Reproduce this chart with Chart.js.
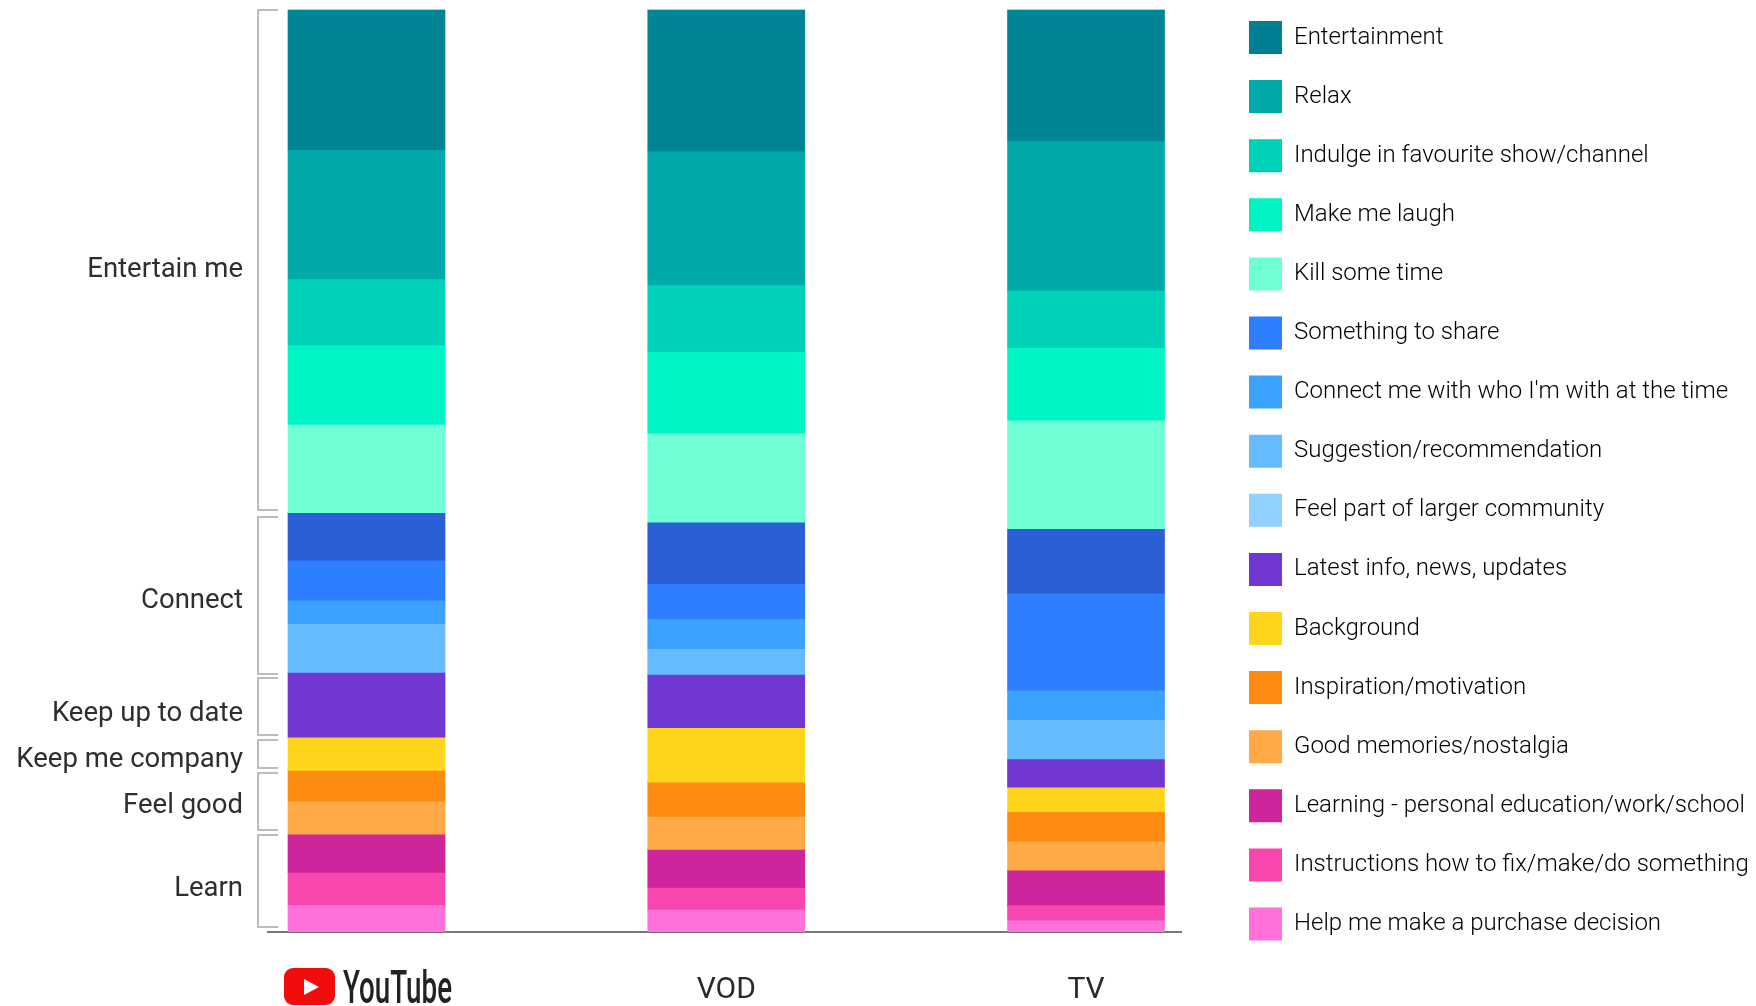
<!DOCTYPE html>
<html>
<head>
<meta charset="utf-8">
<title>Viewing motivations by platform</title>
<script src="https://cdn.jsdelivr.net/npm/chart.js@4/dist/chart.umd.min.js"></script>
<style>
  html, body { margin: 0; padding: 0; background: #fff; }
  #wrap { width: 1756px; height: 1006px; }
</style>
</head>
<body>
<div id="wrap"><canvas id="chart" width="1756" height="1006"></canvas></div>
<script>
const platforms = ['YouTube', 'VOD', 'TV'];

const motivations = [
  'Entertainment', 'Relax', 'Indulge in favourite show/channel', 'Make me laugh',
  'Kill some time', 'Something to share', "Connect me with who I'm with at the time",
  'Suggestion/recommendation', 'Feel part of larger community', 'Latest info, news, updates',
  'Background', 'Inspiration/motivation', 'Good memories/nostalgia',
  'Learning - personal education/work/school', 'Instructions how to fix/make/do something',
  'Help me make a purchase decision'
];

// Share of each motivation per platform, in percent, in stacking order from the top.
const youtubeShares = [15.2, 14.0, 7.15, 8.64, 9.56, 5.15, 4.34, 2.53, 5.28, 7.02, 3.61, 3.33, 3.58, 4.15, 3.50, 2.97];
const vodShares     = [15.39, 14.47, 7.22, 8.85, 9.65, 6.65, 3.80, 3.25, 2.79, 5.78, 5.90, 3.72, 3.58, 4.12, 2.39, 2.46];
const tvShares      = [14.25, 16.19, 6.22, 7.85, 11.78, 6.98, 10.52, 3.18, 4.27, 3.07, 2.63, 3.22, 3.14, 3.76, 1.66, 1.27];

const barColors = [
  '#018494', '#00aaa8', '#00d2b9', '#00f4c6', '#6fffd4',
  '#2b5fd5', '#2e7fff', '#3ba3ff', '#66bbff',
  '#7037d2', '#ffd51c', '#ff8c12', '#ffaa46',
  '#ce259c', '#f946ae', '#ff71d8'
];
const legendColors = [
  '#017f92', '#00a8a7', '#00d0b8', '#00f2c5', '#70ffd3',
  '#2e7fff', '#3ba3ff', '#66bbff', '#90d1ff',
  '#7037d2', '#ffd51c', '#ff8c12', '#ffaa46',
  '#ce259c', '#f946ae', '#ff71d8'
];

const groupNames = ['Entertain me', 'Connect', 'Keep up to date', 'Keep me company', 'Feel good', 'Learn'];

// Group annotations beside the first bar: bracket extents and label centres, in canvas pixels.
const bracketTops    = [10, 517, 678, 740, 773, 835];
const bracketBottoms = [510, 674, 735, 768, 830, 927];
const labelCentres   = [270, 601, 714, 760, 806, 889];

const datasets = motivations.map((name, s) => ({
  label: name,
  backgroundColor: barColors[s],
  borderWidth: 0,
  barThickness: 157,
  data: [youtubeShares, vodShares, tvShares].map((shares, i) => ({ x: i, y: shares[s] }))
}));

// Brackets and group names on the left, and the YouTube wordmark under the first bar.
const annotations = {
  id: 'annotations',
  afterLayout(chart) {
    // The legend sits in its own column beside the plot.
    const lg = chart.legend;
    lg.maxHeight = 1100;
    lg.maxWidth = 600;
    lg.fit();
    const pad = lg.options.labels.padding;
    lg.left = 1249 - pad;
    lg.top = 21 - pad;
    lg.right = 1756;
    lg.bottom = 1006;
  },
  afterDraw(chart) {
    const ctx = chart.ctx;
    ctx.save();
    ctx.strokeStyle = '#bdbdbd';
    ctx.lineWidth = 2;
    groupNames.forEach((name, i) => {
      ctx.beginPath();
      ctx.moveTo(278, bracketTops[i]);
      ctx.lineTo(258, bracketTops[i]);
      ctx.lineTo(258, bracketBottoms[i]);
      ctx.lineTo(278, bracketBottoms[i]);
      ctx.stroke();
    });
    ctx.fillStyle = '#2e2e2e';
    ctx.font = '400 27.5px Roboto';
    ctx.textAlign = 'right';
    ctx.textBaseline = 'middle';
    groupNames.forEach((name, i) => ctx.fillText(name, 243, labelCentres[i]));

    // YouTube play-button mark
    ctx.fillStyle = '#f20d0d';
    ctx.beginPath();
    ctx.roundRect(284, 968, 51, 37, 9);
    ctx.fill();
    ctx.fillStyle = '#fff';
    ctx.beginPath();
    ctx.moveTo(304, 979);
    ctx.lineTo(319, 987);
    ctx.lineTo(304, 995);
    ctx.closePath();
    ctx.fill();

    // Condensed wordmark
    ctx.translate(343, 1003);
    ctx.scale(0.604, 1);
    ctx.fillStyle = '#222';
    ctx.font = '500 46px Roboto';
    ctx.textAlign = 'left';
    ctx.textBaseline = 'alphabetic';
    ctx.fillText(platforms[0], 0, 0);
    ctx.restore();
  }
};

new Chart(document.getElementById('chart'), {
  type: 'bar',
  data: { datasets },
  plugins: [annotations],
  options: {
    responsive: false,
    animation: false,
    events: [],
    layout: { padding: { left: 268, right: 575, top: 9.5, bottom: 0 } },
    scales: {
      x: {
        type: 'linear',
        stacked: true,
        offset: false,
        min: -0.2738,
        max: 2.264,
        grid: { display: false, drawTicks: false, offset: false },
        border: { display: true, color: '#777', width: 2 },
        afterBuildTicks(scale) { scale.ticks = platforms.map((_, i) => ({ value: i })); },
        afterFit(scale) { scale.height = 74; },
        ticks: {
          autoSkip: false,
          maxRotation: 0,
          padding: 40,
          color: '#2a2a2a',
          font: { family: 'Roboto', size: 30, weight: 400 },
          // The first platform is shown as its wordmark.
          callback: (value) => (value === 0 ? '' : platforms[value])
        }
      },
      y: {
        type: 'linear',
        display: false,
        stacked: true,
        reverse: true,
        min: 0,
        max: 100
      }
    },
    plugins: {
      tooltip: { enabled: false },
      legend: {
        position: 'chartArea',
        align: 'start',
        labels: {
          boxWidth: 33,
          boxHeight: 33,
          padding: 26.1,
          color: '#666',
          font: { family: 'Roboto', size: 24, weight: 300 },
          generateLabels: () => motivations.map((name, i) => ({
            text: name,
            fillStyle: legendColors[i],
            strokeStyle: legendColors[i],
            lineWidth: 0,
            hidden: false,
            datasetIndex: i
          }))
        }
      }
    }
  }
});
</script>
</body>
</html>
